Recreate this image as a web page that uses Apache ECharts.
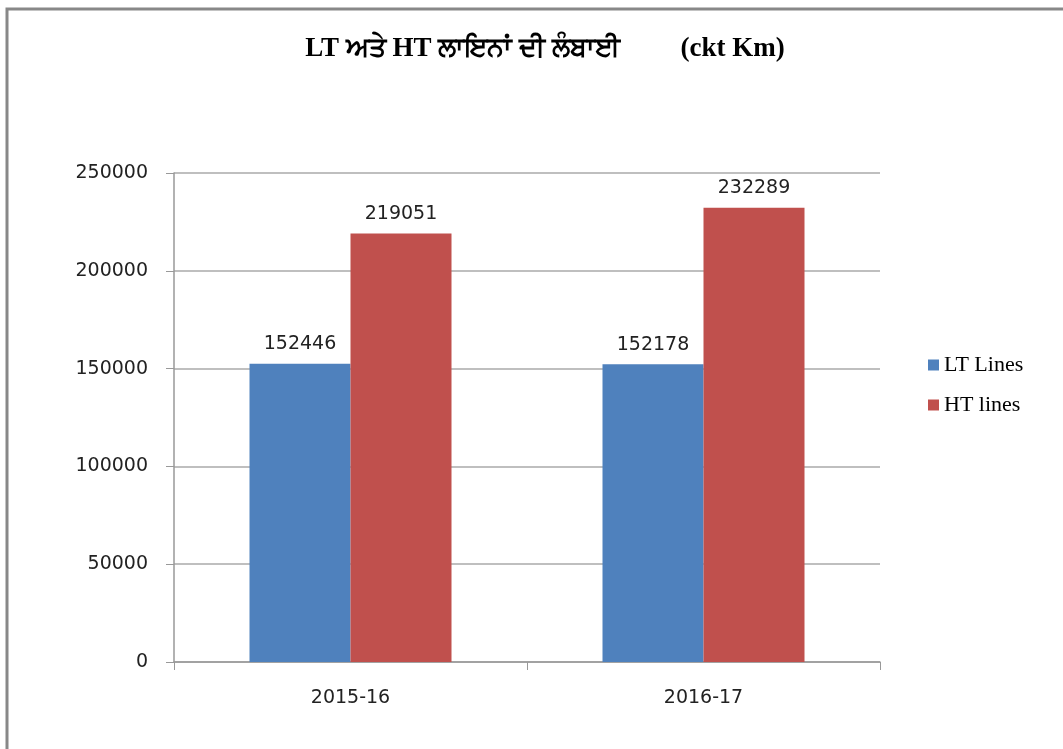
<!DOCTYPE html>
<html>
<head>
<meta charset="utf-8">
<script src="https://cdn.jsdelivr.net/npm/echarts@6/dist/echarts.min.js"></script>
<style>
    html, body { margin: 0; padding: 0; background: #fff; }
    #chart { width: 1063px; height: 749px; }
</style>
</head>
<body>
<div id="chart"></div>
<script>
    var years = ['2015-16', '2016-17'];
    var ltLines = [152446, 152178];
    var htLines = [219051, 232289];
    var seriesNames = ['LT Lines', 'HT lines'];

    var chart = echarts.init(document.getElementById('chart'));

    var barLabel = {
        show: true,
        position: 'top',
        distance: 10,
        color: '#222',
        fontFamily: 'DejaVu Sans',
        fontSize: 19
    };

    chart.setOption({
        backgroundColor: '#fff',
        animation: false,
        graphic: [{
            // outer frame (left and top edges only show in the picture)
            type: 'rect',
            shape: { x: 7, y: 9, width: 1100, height: 800 },
            style: { fill: 'none', stroke: '#888', lineWidth: 3 }
        }],
        title: {
            text: 'LT ਅਤੇ HT ਲਾਇਨਾਂ ਦੀ ਲੰਬਾਈ         (ckt Km)',
            left: 540,
            textAlign: 'center',
            top: 31,
            textStyle: {
                fontFamily: 'Liberation Serif',
                fontWeight: 'bold',
                fontSize: 27,
                color: '#000'
            }
        },
        legend: {
            orient: 'vertical',
            left: 923,
            top: 349,
            itemWidth: 11,
            itemHeight: 11,
            itemGap: 18,
            icon: 'rect',
            data: seriesNames,
            textStyle: {
                fontFamily: 'Liberation Serif',
                fontSize: 22,
                color: '#000'
            }
        },
        grid: {
            left: 174,
            right: 183,
            top: 173,
            bottom: 87,
            containLabel: false
        },
        xAxis: {
            type: 'category',
            data: years,
            axisLine: { lineStyle: { color: '#999', width: 1.5 } },
            axisTick: { show: true, length: 8, lineStyle: { color: '#999' } },
            axisLabel: {
                margin: 27,
                color: '#222',
                fontFamily: 'DejaVu Sans',
                fontSize: 19
            }
        },
        yAxis: {
            type: 'value',
            min: 0,
            max: 250000,
            interval: 50000,
            axisLine: { show: true, lineStyle: { color: '#999', width: 1.5 } },
            axisTick: { show: true, length: 8, lineStyle: { color: '#999' } },
            splitLine: { lineStyle: { color: '#aaa', width: 1.5 } },
            axisLabel: {
                margin: 26,
                color: '#222',
                fontFamily: 'DejaVu Sans',
                fontSize: 19,
                formatter: function (v) {
                    return String(v);
                }
            }
        },
        series: [{
            name: seriesNames[0],
            type: 'bar',
            data: ltLines,
            barWidth: 101,
            barGap: '0%',
            itemStyle: { color: '#4F81BD' },
            label: barLabel
        }, {
            name: seriesNames[1],
            type: 'bar',
            data: htLines,
            barWidth: 101,
            itemStyle: { color: '#C0504D' },
            label: barLabel
        }]
    });
</script>
</body>
</html>
